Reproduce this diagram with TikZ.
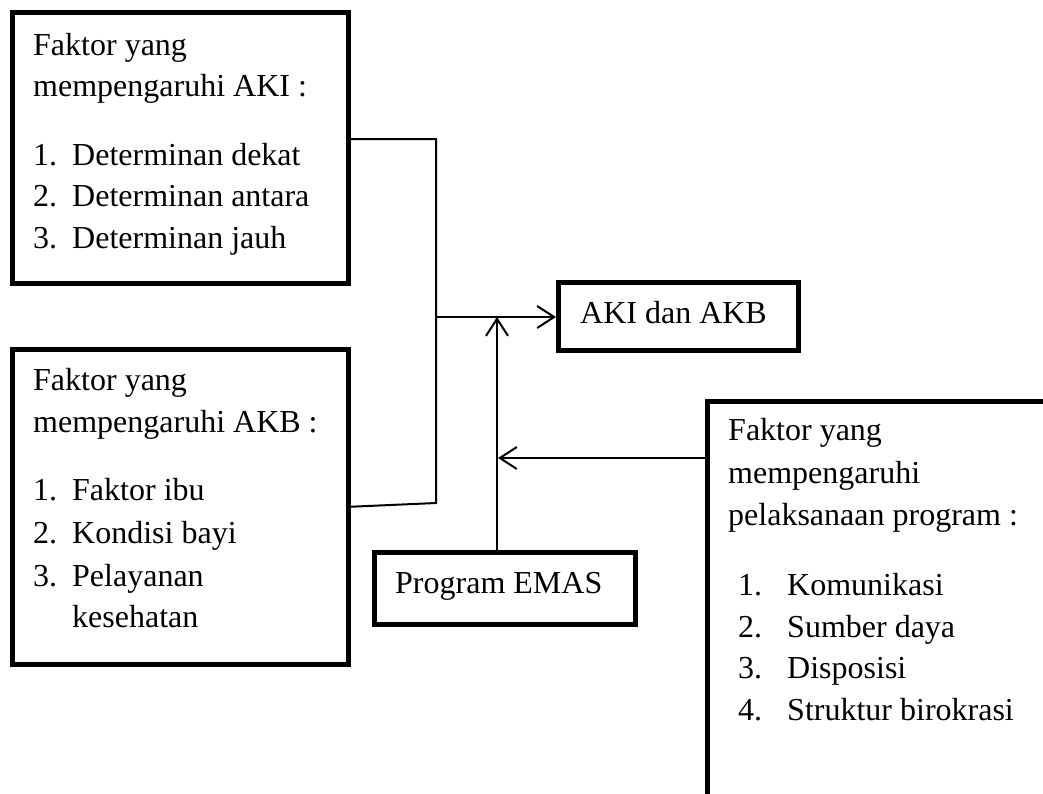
\documentclass[tikz,border=0pt]{standalone}
\usepackage{fontspec}
\setmainfont{Liberation Serif}
\usetikzlibrary{arrows.meta}
\tikzset{
  box/.style={draw, line width=4.5pt, rectangle, anchor=north west, inner sep=0pt},
  txt/.style={anchor=base west, inner sep=0pt, font=\fontsize{32}{38}\selectfont},
  conn/.style={line width=2pt},
  arr/.style={line width=2pt, -{Straight Barb[length=17pt,width=22pt]}}
}
\begin{document}
\begin{tikzpicture}[x=1pt,y=-1pt]
\useasboundingbox (0,0) rectangle (1043,793);
\clip (0,0) rectangle (1043,793);
\fill[white] (0,0) rectangle (1043,793);
% boxes
\node[box, minimum width=336pt, minimum height=271pt] (aki) at (10,10) {};
\node[box, minimum width=336pt, minimum height=315pt] (akb) at (10,347) {};
\node[box, minimum width=240pt, minimum height=68pt] (target) at (556,280) {};
\node[box, minimum width=261pt, minimum height=72pt] (emas) at (372,550) {};
\node[box, minimum width=350pt, minimum height=410pt] (impl) at (705,399) {};
% texts: AKI box
\node[txt] (a1) at (33,55) {Faktor yang};
\node[txt] (a2) at (33,96) {mempengaruhi AKI :};
\node[txt] (a3n) at (33,165) {1.};
\node[txt] (a3) at (72,165) {Determinan dekat};
\node[txt] (a4n) at (33,206.5) {2.};
\node[txt] (a4) at (72,206.5) {Determinan antara};
\node[txt] (a5n) at (33,248) {3.};
\node[txt] (a5) at (72,248) {Determinan jauh};
% AKB box
\node[txt] (b1) at (33,390) {Faktor yang};
\node[txt] (b2) at (33,432) {mempengaruhi AKB :};
\node[txt] (b3n) at (33,500) {1.};
\node[txt] (b3) at (72,500) {Faktor ibu};
\node[txt] (b4n) at (33,543) {2.};
\node[txt] (b4) at (72,543) {Kondisi bayi};
\node[txt] (b5n) at (33,586) {3.};
\node[txt] (b5) at (72,586) {Pelayanan};
\node[txt] (b6) at (72,627) {kesehatan};
% target and program
\node[txt] (t1) at (580,323) {AKI dan AKB};
\node[txt] (e1) at (395,593) {Program EMAS};
% implementation box
\node[txt] (i1) at (728,440) {Faktor yang};
\node[txt] (i2) at (728,483) {mempengaruhi};
\node[txt] (i3) at (728,525) {pelaksanaan program :};
\node[txt] (i4n) at (738,595) {1.};
\node[txt] (i4) at (787,595) {Komunikasi};
\node[txt] (i5n) at (738,637) {2.};
\node[txt] (i5) at (787,637) {Sumber daya};
\node[txt] (i6n) at (738,678) {3.};
\node[txt] (i6) at (787,678) {Disposisi};
\node[txt] (i7n) at (738,720) {4.};
\node[txt] (i7) at (787,720) {Struktur birokrasi};
% junctions
\coordinate (j0) at (436,139);
\coordinate (j1) at (436,317);
\coordinate (j2) at (436,503);
\coordinate (j3) at (497,317);
\coordinate (j4) at (498,458);
% connectors
\draw[conn] (aki.east |- j0) -- (j0) -- (j2) -- (akb.east);
\draw[arr] (j1) -- (target.west |- j1);
\draw[arr] (emas.north -| j3) -- (j3);
\draw[arr] (impl.west |- j4) -- (j4);
\end{tikzpicture}
\end{document}
